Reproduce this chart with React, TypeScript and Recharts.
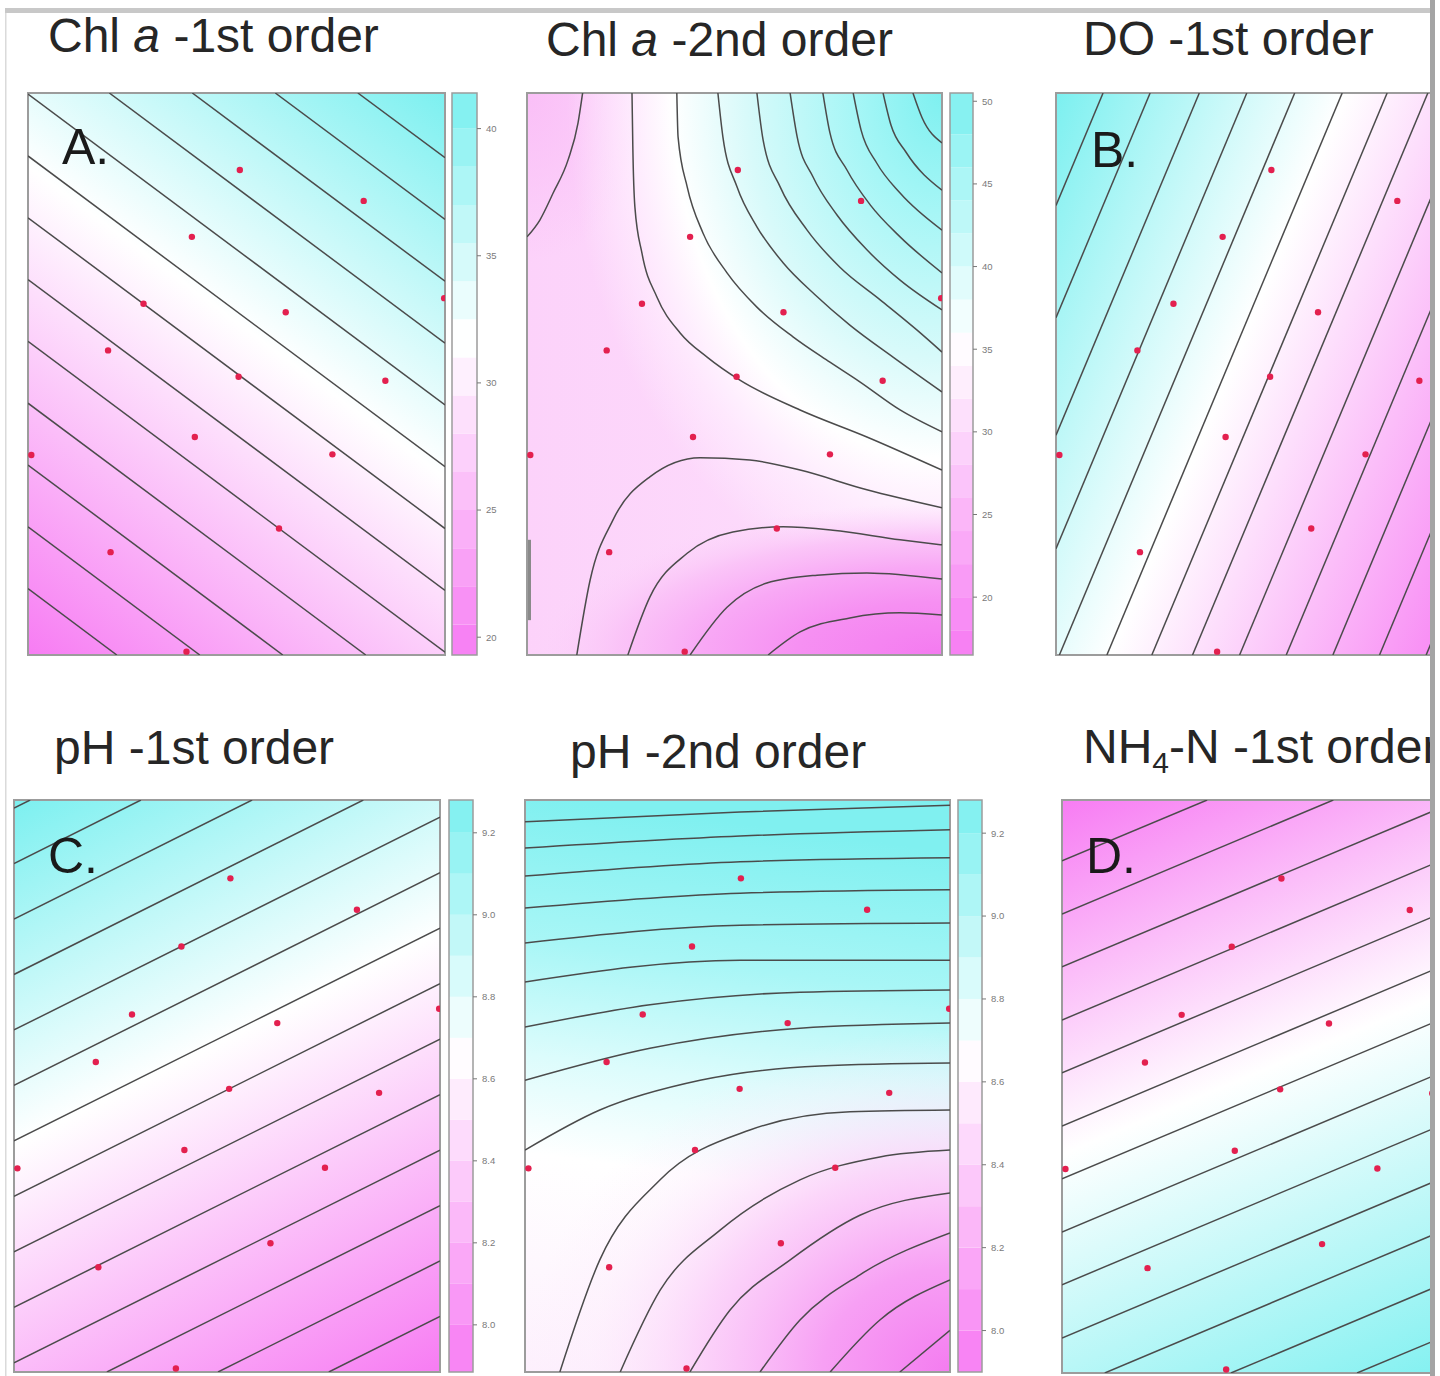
import React from "react";
import { ComposedChart, Line, Scatter, XAxis, YAxis, ReferenceArea } from "recharts";

// sampling design (same layout in every panel), as fractions of the plot box
const designX = [0.508, 0.805, 0.393, 0.277, 0.618, 0.192, 0.505, 0.857, 0.4, 0.73, 0.008, 0.602, 0.198, 0.38, 0.998];
const designY = [0.863, 0.808, 0.744, 0.625, 0.61, 0.542, 0.495, 0.488, 0.388, 0.357, 0.356, 0.225, 0.183, 0.006, 0.635];

type Pt = [number, number];

// contour lines
const chlA1Lines: Pt[][] = [
  [[0.791, 1], [1, 0.885]],
  [[0.593, 1], [1, 0.775]],
  [[0.394, 1], [1, 0.665]],
  [[0.195, 1], [1, 0.555]],
  [[0, 0.998], [1, 0.445]],
  [[0, 0.888], [1, 0.335]],
  [[0, 0.778], [1, 0.225]],
  [[0, 0.668], [1, 0.115]],
  [[0, 0.558], [1, 0.005]],
  [[0, 0.448], [0.81, 0]],
  [[0, 0.338], [0.611, 0]],
  [[0, 0.228], [0.412, 0]],
  [[0, 0.118], [0.213, 0]],
];

const chlA2Lines: Pt[][] = [
  [[0, 0.744], [0.031, 0.774], [0.063, 0.822], [0.099, 0.881], [0.123, 0.947], [0.134, 1]],
  [[0.253, 1], [0.255, 0.904], [0.26, 0.797], [0.277, 0.715], [0.313, 0.637], [0.369, 0.573], [0.434, 0.53], [0.513, 0.489], [0.658, 0.436], [0.819, 0.388], [1, 0.329]],
  [[0.361, 1], [0.364, 0.922], [0.386, 0.833], [0.424, 0.751], [0.482, 0.68], [0.554, 0.619], [0.641, 0.566], [0.73, 0.521], [0.802, 0.486], [0.899, 0.436], [1, 0.397]],
  [[0.46, 1], [0.472, 0.922], [0.506, 0.833], [0.554, 0.762], [0.617, 0.698], [0.694, 0.641], [0.778, 0.587], [0.882, 0.53], [1, 0.468]],
  [[0.554, 1], [0.569, 0.916], [0.61, 0.833], [0.675, 0.756], [0.754, 0.69], [0.851, 0.632], [0.94, 0.578], [1, 0.539]],
  [[0.634, 1], [0.651, 0.922], [0.689, 0.851], [0.747, 0.783], [0.819, 0.721], [0.899, 0.667], [1, 0.614]],
  [[0.713, 1], [0.73, 0.929], [0.771, 0.863], [0.827, 0.801], [0.899, 0.744], [1, 0.68]],
  [[0.786, 1], [0.805, 0.934], [0.843, 0.875], [0.899, 0.822], [1, 0.756]],
  [[0.858, 1], [0.877, 0.943], [0.913, 0.895], [1, 0.827]],
  [[0.93, 1], [0.952, 0.956], [1, 0.911]],
  [[0.12, 0], [0.152, 0.133], [0.207, 0.24], [0.296, 0.317], [0.417, 0.351], [0.537, 0.347], [0.658, 0.329], [0.819, 0.294], [1, 0.262]],
  [[0.243, 0], [0.296, 0.103], [0.386, 0.181], [0.496, 0.219], [0.617, 0.228], [0.737, 0.222], [0.899, 0.205], [1, 0.196]],
  [[0.393, 0], [0.482, 0.085], [0.578, 0.128], [0.699, 0.142], [0.819, 0.146], [1, 0.135]],
  [[0.581, 0], [0.658, 0.041], [0.778, 0.066], [0.899, 0.075], [1, 0.071]],
];
const chlA2Edge: Pt[] = [[0.006, 0.205], [0.006, 0.062]];

const doLines: Pt[][] = [
  [[0, 0.8], [0.111, 1]],
  [[0, 0.6], [0.222, 1]],
  [[0, 0.391], [0.338, 1]],
  [[0, 0.189], [0.45, 1]],
  [[0.008, 0], [0.563, 1]],
  [[0.12, 0], [0.675, 1]],
  [[0.226, 0], [0.781, 1]],
  [[0.322, 0], [0.877, 1]],
  [[0.433, 0], [0.988, 1]],
  [[0.543, 0], [1, 0.823]],
  [[0.653, 0], [1, 0.625]],
  [[0.763, 0], [1, 0.427]],
  [[0.873, 0], [1, 0.229]],
];

const pH1Lines: Pt[][] = [
  [[0.739, 0], [1, 0.097]],
  [[0.479, 0], [1, 0.194]],
  [[0.218, 0], [1, 0.291]],
  [[0, 0.016], [1, 0.388]],
  [[0, 0.113], [1, 0.485]],
  [[0, 0.21], [1, 0.582]],
  [[0, 0.307], [1, 0.679]],
  [[0, 0.404], [1, 0.776]],
  [[0, 0.501], [1, 0.873]],
  [[0, 0.598], [1, 0.97]],
  [[0, 0.695], [0.82, 1]],
  [[0, 0.792], [0.559, 1]],
  [[0, 0.889], [0.298, 1]],
  [[0, 0.986], [0.038, 1]],
];

const pH2Lines: Pt[][] = [
  [[0, 0.962], [0.506, 0.979], [1, 0.991]],
  [[0, 0.916], [0.506, 0.937], [1, 0.948]],
  [[0, 0.867], [0.506, 0.892], [1, 0.899]],
  [[0, 0.811], [0.506, 0.837], [1, 0.843]],
  [[0, 0.75], [0.506, 0.781], [1, 0.785]],
  [[0, 0.682], [0.506, 0.72], [1, 0.72]],
  [[0, 0.603], [0.294, 0.642], [0.647, 0.664], [1, 0.668]],
  [[0, 0.51], [0.294, 0.566], [0.647, 0.601], [1, 0.61]],
  [[0, 0.388], [0.176, 0.458], [0.412, 0.51], [0.694, 0.535], [1, 0.54]],
  [[0.082, 0], [0.176, 0.196], [0.318, 0.336], [0.529, 0.423], [0.765, 0.455], [1, 0.458]],
  [[0.224, 0], [0.318, 0.143], [0.459, 0.248], [0.647, 0.336], [0.835, 0.376], [1, 0.388]],
  [[0.388, 0], [0.482, 0.108], [0.624, 0.196], [0.788, 0.274], [1, 0.313]],
  [[0.553, 0], [0.647, 0.091], [0.788, 0.17], [1, 0.243]],
  [[0.718, 0], [0.835, 0.091], [1, 0.161]],
  [[0.882, 0], [1, 0.073]],
];

const nh4Lines: Pt[][] = [
  [[0.683, 0], [1, 0.1]],
  [[0.391, 0], [1, 0.193]],
  [[0.099, 0], [1, 0.286]],
  [[0, 0.061], [1, 0.378]],
  [[0, 0.154], [1, 0.471]],
  [[0, 0.246], [1, 0.563]],
  [[0, 0.339], [1, 0.656]],
  [[0, 0.431], [1, 0.748]],
  [[0, 0.524], [1, 0.841]],
  [[0, 0.616], [1, 0.933]],
  [[0, 0.709], [0.92, 1]],
  [[0, 0.801], [0.628, 1]],
  [[0, 0.894], [0.336, 1]],
];

// colour keys
const chlA1Levels = [19.3, 20.5, 22, 23.5, 25, 26.5, 28, 29.5, 31, 32.5, 34, 35.5, 37, 38.5, 40, 41.4];
const chlA1Ticks = [20, 25, 30, 35, 40];
const chlA2Levels = [16.5, 18, 20, 22, 24, 26, 28, 30, 32, 34, 36, 38, 40, 42, 44, 46, 48, 50.5];
const chlA2Ticks = [20, 25, 30, 35, 40, 45, 50];
const pH1Levels = [7.885, 8.0, 8.1, 8.2, 8.3, 8.4, 8.5, 8.6, 8.7, 8.8, 8.9, 9.0, 9.1, 9.2, 9.28];
const pH2Levels = [7.9, 8.0, 8.1, 8.2, 8.3, 8.4, 8.5, 8.6, 8.7, 8.8, 8.9, 9.0, 9.1, 9.2, 9.28];
const pHTicks = [8.0, 8.2, 8.4, 8.6, 8.8, 9.0, 9.2];

const PINK = [247, 124, 243];
const CYAN = [124, 240, 240];
const WHITE_AT = 0.56;
function keyColor(t: number, w = WHITE_AT) {
  const [c, f] = t < w ? [PINK, (w - t) / w] : [CYAN, (t - w) / (1 - w)];
  const ch = c.map((v) => Math.round(255 + (v - 255) * Math.min(1, Math.max(0, f))));
  return `rgb(${ch.join(",")})`;
}

const FONT = "'Liberation Sans', Arial, Helvetica, sans-serif";
const design = designX.map((x, i) => ({ x, y: designY[i] }));
const toPts = (l: Pt[]) => l.map(([x, y]) => ({ x, y }));

function Dot(props: any) {
  return <circle cx={props.cx} cy={props.cy} r={3.2} fill="#e3204f" />;
}

function linearDef(id: string, v: [number, number, number, number], highFirst: boolean, w = WHITE_AT) {
  const mid = highFirst ? 1 - w : w;
  const stops = [0, mid, 1];
  return (
    <linearGradient id={id} x1={v[0]} y1={v[1]} x2={v[2]} y2={v[3]}>
      {stops.map((o) => (
        <stop key={o} offset={o} stopColor={keyColor(highFirst ? 1 - o : o, w)} />
      ))}
    </linearGradient>
  );
}

interface PanelProps {
  left: number;
  top: number;
  width: number;
  height: number;
  defs: React.ReactNode;
  fills: string[];
  lines: Pt[][];
  extra?: Pt[][];
}

function ContourPanel({ left, top, width, height, defs, fills, lines, extra = [] }: PanelProps) {
  const pad = 2;
  return (
    <div style={{ position: "absolute", left: left - pad, top: top - pad }}>
      <ComposedChart width={width + 2 * pad} height={height + 2 * pad} margin={{ top: pad, right: pad, bottom: pad, left: pad }}>
        <defs>{defs}</defs>
        <XAxis type="number" dataKey="x" domain={[0, 1]} hide allowDataOverflow />
        <YAxis type="number" dataKey="y" domain={[0, 1]} hide allowDataOverflow />
        {fills.map((f) => (
          <ReferenceArea key={f} x1={0} x2={1} y1={0} y2={1} fill={`url(#${f})`} fillOpacity={1} stroke="none" />
        ))}
        {lines.map((l, i) => (
          <Line key={i} data={toPts(l)} dataKey="y" type="monotone" stroke="#4b4b4b" strokeWidth={1.5} dot={false} isAnimationActive={false} />
        ))}
        {extra.map((l, i) => (
          <Line key={"e" + i} data={toPts(l)} dataKey="y" type="linear" stroke="#8a8a8a" strokeWidth={3} dot={false} isAnimationActive={false} />
        ))}
        <Scatter data={design} shape={Dot} isAnimationActive={false} />
        <ReferenceArea x1={0} x2={1} y1={0} y2={1} fill="none" stroke="#9c9c9c" strokeWidth={2} />
      </ComposedChart>
    </div>
  );
}

interface KeyProps {
  left: number;
  top: number;
  width: number;
  height: number;
  levels: number[];
  ticks: number[];
  digits: number;
}

function ColorKey({ left, top, width, height, levels, ticks, digits }: KeyProps) {
  const lo = levels[0];
  const hi = levels[levels.length - 1];
  const axisW = 36;
  return (
    <div style={{ position: "absolute", left: left - 1, top: top - 1 }}>
      <ComposedChart width={width + 2 + axisW} height={height + 2} margin={{ top: 1, right: 0, bottom: 1, left: 1 }}>
        <XAxis type="number" dataKey="x" domain={[0, 1]} hide allowDataOverflow />
        <YAxis
          type="number"
          dataKey="y"
          orientation="right"
          domain={[lo, hi]}
          allowDataOverflow
          ticks={ticks}
          interval={0}
          width={axisW}
          axisLine={false}
          tickSize={4}
          tickMargin={5}
          tickLine={{ stroke: "#777" }}
          tick={{ fontSize: 9.5, fill: "#7a7a7a", fontFamily: FONT }}
          tickFormatter={(v: number) => v.toFixed(digits)}
        />
        {levels.slice(1).map((v, i) => (
          <ReferenceArea
            key={i}
            y1={levels[i]}
            y2={v}
            fill={keyColor(((levels[i] + v) / 2 - lo) / (hi - lo))}
            fillOpacity={1}
            stroke="none"
          />
        ))}
        <ReferenceArea y1={lo} y2={hi} fill="none" stroke="#9c9c9c" strokeWidth={1.5} />
      </ComposedChart>
    </div>
  );
}

const titleStyle = { fontSize: 48, fill: "#262626", fontFamily: FONT } as const;
const letterStyle = { fontSize: 50, fill: "#1a1a1a", fontFamily: FONT } as const;

export default function App() {
  return (
    <div style={{ position: "absolute", left: 0, top: 0, width: 1440, height: 1376, background: "#fff", overflow: "hidden" }}>
      <div style={{ position: "absolute", left: 0, top: 0, width: 1430, height: 1376, overflow: "hidden" }}>
        <ContourPanel
          left={28}
          top={93}
          width={417}
          height={562}
          defs={linearDef("gA", [1, 0, 0.342, 1.189], true)}
          fills={["gA"]}
          lines={chlA1Lines}
        />
        <ColorKey left={452} top={93} width={24} height={562} levels={chlA1Levels} ticks={chlA1Ticks} digits={0} />

        <ContourPanel
          left={527}
          top={93}
          width={415}
          height={562}
          defs={
            <>
              <linearGradient id="g2base" x1={0} y1={0} x2={1} y2={0}>
                <stop offset={0} stopColor="#fcd2fa" />
                <stop offset={1} stopColor="#fde0fc" />
              </linearGradient>
              <radialGradient id="g2tl" cx={0} cy={0} r={0.3}>
                <stop offset={0} stopColor="#fabff7" stopOpacity={1} />
                <stop offset={1} stopColor="#fabff7" stopOpacity={0} />
              </radialGradient>
              <radialGradient id="g2tr" cx={1} cy={0} r={1.05}>
                <stop offset={0} stopColor="#7ef0f0" />
                <stop offset={0.2} stopColor="#a6f6f6" />
                <stop offset={0.45} stopColor="#d8fafa" />
                <stop offset={0.62} stopColor="#ffffff" stopOpacity={1} />
                <stop offset={0.74} stopColor="#fff2ff" stopOpacity={0.6} />
                <stop offset={0.86} stopColor="#fff2ff" stopOpacity={0} />
              </radialGradient>
              <radialGradient id="g2br" cx={1} cy={1} r={1} gradientTransform="translate(1 1) scale(1 0.27) translate(-1 -1)">
                <stop offset={0} stopColor="#f47af0" />
                <stop offset={0.35} stopColor="#f690f2" />
                <stop offset={0.58} stopColor="#f8a8f5" />
                <stop offset={0.78} stopColor="#fac0f7" stopOpacity={0.85} />
                <stop offset={1} stopColor="#fcd6fa" stopOpacity={0} />
              </radialGradient>
            </>
          }
          fills={["g2base", "g2tl", "g2tr", "g2br"]}
          lines={chlA2Lines}
          extra={[chlA2Edge]}
        />
        <ColorKey left={950} top={93} width={22} height={562} levels={chlA2Levels} ticks={chlA2Ticks} digits={0} />

        <ContourPanel
          left={1056}
          top={93}
          width={424}
          height={562}
          defs={linearDef("gB", [0, 0, 1.189, 0.66], true)}
          fills={["gB"]}
          lines={doLines}
        />

        <ContourPanel
          left={14}
          top={800}
          width={426}
          height={572}
          defs={linearDef("gC", [0, 0, 0.449, 1.206], true)}
          fills={["gC"]}
          lines={pH1Lines}
        />
        <ColorKey left={449} top={800} width={23} height={572} levels={pH1Levels} ticks={pHTicks} digits={1} />

        <ContourPanel
          left={525}
          top={800}
          width={425}
          height={572}
          defs={
            <>
              <linearGradient id="g5base" x1={0.1} y1={0} x2={0} y2={1}>
                <stop offset={0} stopColor="#80f0f0" />
                <stop offset={0.25} stopColor="#a8f6f6" />
                <stop offset={0.45} stopColor="#dcfcfc" />
                <stop offset={0.62} stopColor="#ffffff" />
                <stop offset={1} stopColor="#fdf0fd" />
              </linearGradient>
              <radialGradient id="g5br" cx={1} cy={1} r={1} gradientTransform="translate(1 1) scale(1 0.6) translate(-1 -1)">
                <stop offset={0} stopColor="#f47cf0" />
                <stop offset={0.3} stopColor="#f7a0f4" />
                <stop offset={0.6} stopColor="#fbcff9" stopOpacity={0.85} />
                <stop offset={0.85} stopColor="#fdebfc" stopOpacity={0.3} />
                <stop offset={1} stopColor="#fdebfc" stopOpacity={0} />
              </radialGradient>
            </>
          }
          fills={["g5base", "g5br"]}
          lines={pH2Lines}
        />
        <ColorKey left={958} top={800} width={23} height={572} levels={pH2Levels} ticks={pHTicks} digits={1} />

        <ContourPanel
          left={1062}
          top={800}
          width={432}
          height={573}
          defs={linearDef("gD", [0, 0, 0.379, 1.197], false, 0.47)}
          fills={["gD"]}
          lines={nh4Lines}
        />

        <svg width={1430} height={1376} style={{ position: "absolute", left: 0, top: 0, pointerEvents: "none" }}>
          <rect x={5} y={8} width={1430} height={5} fill="#c8c8c8" />
          <rect x={5} y={13} width={1.5} height={1363} fill="#dadada" />
          <text x={48} y={52} style={titleStyle}>
            Chl <tspan fontStyle="italic">a</tspan> -1st order
          </text>
          <text x={546} y={56} style={titleStyle}>
            Chl <tspan fontStyle="italic">a</tspan> -2nd order
          </text>
          <text x={1083} y={55} style={titleStyle}>
            DO -1st order
          </text>
          <text x={54} y={764} style={titleStyle}>
            pH -1st order
          </text>
          <text x={570} y={768} style={titleStyle}>
            pH -2nd order
          </text>
          <text x={1083} y={763} style={titleStyle}>
            NH<tspan fontSize={30} dy={10}>4</tspan>
            <tspan dy={-10}>-N -1st order</tspan>
          </text>
          <text x={62} y={164} style={letterStyle}>A.</text>
          <text x={1091} y={167} style={letterStyle}>B.</text>
          <text x={48} y={873} style={letterStyle}>C.</text>
          <text x={1086} y={873} style={letterStyle}>D.</text>
        </svg>
      </div>
      <div style={{ position: "absolute", left: 1430, top: 0, width: 5, height: 1376, background: "#a4a4a4" }} />
    </div>
  );
}
